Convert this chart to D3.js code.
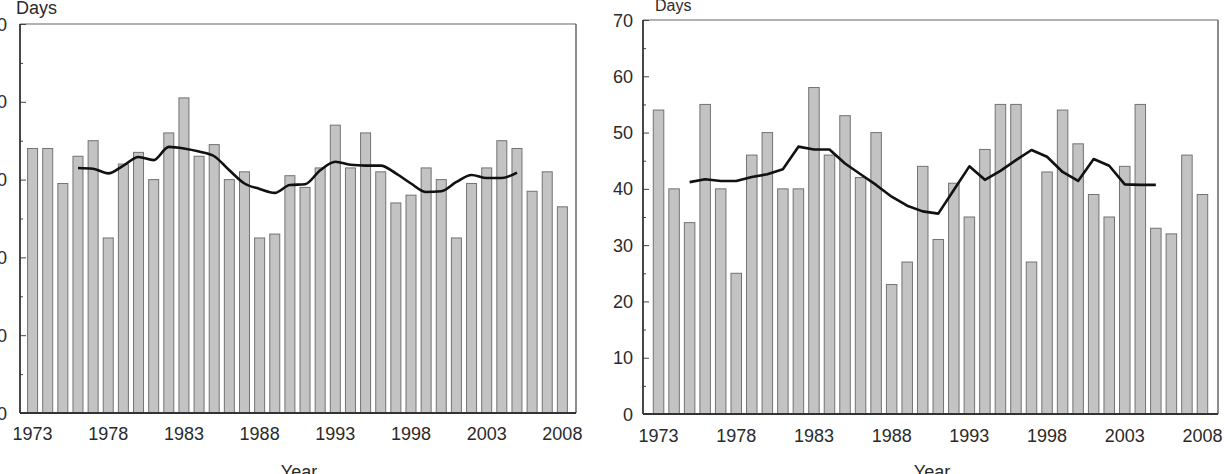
<!DOCTYPE html>
<html>
<head>
<meta charset="utf-8">
<script src="https://cdn.jsdelivr.net/npm/d3@7"></script>
<style>
	body { margin: 0; background: #fff; }
	svg text { font-family: "Liberation Sans", Arial, sans-serif; fill: #2a2a2a; }
</style>
</head>
<body>
<div id="chart"></div>
<script>

// years shown on both panels
const years = [1973, 1974, 1975, 1976, 1977, 1978, 1979, 1980, 1981, 1982, 1983, 1984,
	1985, 1986, 1987, 1988, 1989, 1990, 1991, 1992, 1993, 1994, 1995, 1996,
	1997, 1998, 1999, 2000, 2001, 2002, 2003, 2004, 2005, 2006, 2007, 2008];

const yearTicks = [1973, 1978, 1983, 1988, 1993, 1998, 2003, 2008];

// left panel
const leftDays = [34, 34, 29.5, 33, 35, 22.5, 32, 33.5, 30, 36, 40.5, 33,
	34.5, 30, 31, 22.5, 23, 30.5, 29, 31.5, 37, 31.5, 36, 31,
	27, 28, 31.5, 30, 22.5, 29.5, 31.5, 35, 34, 28.5, 31, 26.5];

const leftMeanYears = [1976, 1977, 1978, 1979, 1980, 1981, 1982, 1983, 1984, 1985,
	1986, 1987, 1988, 1989, 1990, 1991, 1992, 1993, 1994, 1995,
	1996, 1997, 1998, 1999, 2000, 2001, 2002, 2003, 2004, 2005];
const leftMean = [31.5, 31.4, 30.8, 31.8, 32.9, 32.5, 34.2, 34.0, 33.6, 33.0,
	31.2, 29.5, 28.8, 28.3, 29.3, 29.4, 31.2, 32.3, 31.9, 31.8,
	31.8, 30.8, 29.5, 28.4, 28.5, 29.7, 30.6, 30.2, 30.2, 30.9];
const leftTicks = [0, 10, 20, 30, 40, 50];

// right panel
const rightDays = [54, 40, 34, 55, 40, 25, 46, 50, 40, 40, 58, 46,
	53, 42, 50, 23, 27, 44, 31, 41, 35, 47, 55, 55,
	27, 43, 54, 48, 39, 35, 44, 55, 33, 32, 46, 39];

const rightMeanYears = [1975, 1976, 1977, 1978, 1979, 1980, 1981, 1982, 1983, 1984,
	1985, 1986, 1987, 1988, 1989, 1990, 1991, 1992, 1993, 1994, 1995,
	1996, 1997, 1998, 1999, 2000, 2001, 2002, 2003, 2004, 2005];
const rightMean = [41.2, 41.7, 41.4, 41.4, 42.1, 42.6, 43.5, 47.5, 47.0, 47.0,
	44.5, 42.6, 40.7, 38.6, 37.0, 36.0, 35.6, 39.8, 44.0, 41.6, 43.2,
	45.1, 46.9, 45.7, 43.0, 41.4, 45.3, 44.1, 40.8, 40.7, 40.7];
const rightTicks = [0, 10, 20, 30, 40, 50, 60, 70];

const svg = d3.select("#chart").append("svg")
	.attr("width", 1225)
	.attr("height", 474);

function drawPanel(p) {
	let g = svg.append("g");

	let x = d3.scaleLinear().domain(p.xDomain).range([p.left, p.right]);
	let y = d3.scaleLinear().domain([0, d3.max(p.ticks)]).range([p.bottom, p.top]);

	// frame (top + right in lighter grey)
	g.append("line")
		.attr("x1", p.left).attr("x2", p.right)
		.attr("y1", p.top).attr("y2", p.top)
		.attr("stroke", "#999").attr("stroke-width", 1.5);
	g.append("line")
		.attr("x1", p.right).attr("x2", p.right)
		.attr("y1", p.top).attr("y2", p.bottom)
		.attr("stroke", "#666").attr("stroke-width", 1.5);

	// bars
	g.selectAll(".bar")
		.data(years.map((yr, i) => ({ year: yr, value: p.days[i] })))
		.enter()
		.append("rect")
		.attr("class", "bar")
		.attr("x", d => x(d.year) - p.barW / 2)
		.attr("width", p.barW)
		.attr("y", d => y(d.value))
		.attr("height", d => y(0) - y(d.value))
		.attr("fill", "#c3c3c3")
		.attr("stroke", "#737373")
		.attr("stroke-width", 1);

	// running mean
	let line = d3.line()
		.x(d => x(d.year))
		.y(d => y(d.value))
		.curve(p.curve);

	g.append("path")
		.datum(p.meanYears.map((yr, i) => ({ year: yr, value: p.mean[i] })))
		.attr("d", line)
		.attr("fill", "none")
		.attr("stroke", "#111")
		.attr("stroke-width", 2.6)
		.attr("stroke-linejoin", "round");

	// y axis, ticks pointing inward
	let yAxis = d3.axisRight(y)
		.tickValues(p.ticks)
		.tickSize(6)
		.tickFormat("");
	g.append("g")
		.attr("transform", `translate(${p.left},0)`)
		.call(yAxis)
		.call(a => a.select(".domain").remove())
		.call(a => a.selectAll("line").attr("stroke", "#444"));

	let minor = d3.axisRight(y)
		.tickValues(p.ticks.slice(0, -1).map(t => t + (p.ticks[1] - p.ticks[0]) / 2))
		.tickSize(3)
		.tickFormat("");
	g.append("g")
		.attr("transform", `translate(${p.left},0)`)
		.call(minor)
		.call(a => a.select(".domain").remove())
		.call(a => a.selectAll("line").attr("stroke", "#444"));

	g.selectAll(".ylab")
		.data(p.ticks)
		.enter()
		.append("text")
		.attr("class", "ylab")
		.attr("x", p.labelX)
		.attr("y", d => y(d) + 6.5)
		.attr("text-anchor", "end")
		.style("font-size", "18px")
		.text(d => d);

	// axis lines
	g.append("line")
		.attr("x1", p.left).attr("x2", p.left)
		.attr("y1", p.top).attr("y2", p.bottom)
		.attr("stroke", "#333").attr("stroke-width", 1.8);
	g.append("line")
		.attr("x1", p.left).attr("x2", p.right)
		.attr("y1", p.bottom).attr("y2", p.bottom)
		.attr("stroke", "#333").attr("stroke-width", 1.8);

	// x labels
	g.selectAll(".xlab")
		.data(yearTicks)
		.enter()
		.append("text")
		.attr("class", "xlab")
		.attr("x", d => x(d))
		.attr("y", p.xLabelY)
		.attr("text-anchor", "middle")
		.style("font-size", "18px")
		.text(d => d);

	g.append("text")
		.attr("x", p.daysX)
		.attr("y", p.daysY)
		.style("font-size", p.daysSize)
		.text("Days");

	g.append("text")
		.attr("x", p.yearX)
		.attr("y", 478)
		.attr("text-anchor", "middle")
		.style("font-size", "18px")
		.text("Year");
}

drawPanel({
	days: leftDays, meanYears: leftMeanYears, mean: leftMean, ticks: leftTicks,
	xDomain: [1972.17, 2008.9], left: 20, right: 576, top: 24, bottom: 413,
	barW: 10, labelX: 7, xLabelY: 440, daysX: 16, daysY: 14, daysSize: "18px",
	yearX: 299, curve: d3.curveMonotoneX
});

drawPanel({
	days: rightDays, meanYears: rightMeanYears, mean: rightMean, ticks: rightTicks,
	xDomain: [1972, 2009], left: 643, right: 1218, top: 20, bottom: 414,
	barW: 10.5, labelX: 633, xLabelY: 442, daysX: 655, daysY: 11, daysSize: "16px",
	yearX: 932, curve: d3.curveLinear
});

</script>
</body>
</html>
